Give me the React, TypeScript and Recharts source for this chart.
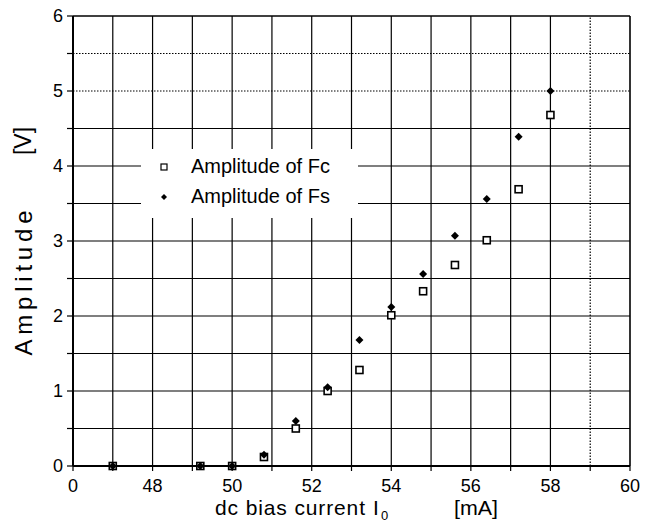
import { ScatterChart, Scatter, XAxis, YAxis, ReferenceLine, Legend } from 'recharts';

// bias current [mA] and the two measured amplitudes [V]
const current = [47, 49.2, 50, 50.8, 51.6, 52.4, 53.2, 54, 54.8, 55.6, 56.4, 57.2, 58];
const ampFc = [0, 0, 0, 0.12, 0.5, 1.0, 1.28, 2.01, 2.33, 2.68, 3.01, 3.69, 4.68];
const ampFs = [0, 0, 0, 0.15, 0.6, 1.05, 1.68, 2.12, 2.56, 3.07, 3.56, 4.39, 5.0];

const seriesNames = ['Amplitude of Fc', 'Amplitude of Fs'];

const xTicks = [46, 47, 48, 49, 50, 51, 52, 53, 54, 55, 56, 57, 58, 59, 60];
const yTicks = [0, 0.5, 1, 1.5, 2, 2.5, 3, 3.5, 4, 4.5, 5, 5.5, 6];
const xDotted = [59];
const yDotted = [5, 5.5];

const fcData = current.map((x, i) => ({ x, y: ampFc[i] }));
const fsData = current.map((x, i) => ({ x, y: ampFs[i] }));

const FONT = '"Liberation Sans", Arial, Helvetica, sans-serif';
const INK = '#000';

const xTickLabel = (v: number) => {
  if (v === 46) return '0';
  return v % 2 === 0 ? String(v) : '';
};
const yTickLabel = (v: number) => (Number.isInteger(v) ? String(v) : '');

const SquareMark = (props: any) => {
  const { cx, cy } = props;
  return <rect x={cx - 3.5} y={cy - 3.5} width={7} height={7} fill="#fff" stroke={INK} strokeWidth={1.6} />;
};

const DiamondMark = (props: any) => {
  const { cx, cy } = props;
  const r = 4;
  return <path d={`M${cx},${cy - r}L${cx + r},${cy}L${cx},${cy + r}L${cx - r},${cy}Z`} fill={INK} />;
};

const LegendBox = () => (
  <div style={{ fontFamily: FONT, fontSize: 20, color: INK, lineHeight: '30px', padding: '2px 0 0 0' }}>
    <div style={{ display: 'flex', alignItems: 'center' }}>
      <svg width={50} height={30}>
        <rect x={20} y={13} width={6} height={6} fill="#fff" stroke={INK} strokeWidth={1.2} />
      </svg>
      <span>{seriesNames[0]}</span>
    </div>
    <div style={{ display: 'flex', alignItems: 'center' }}>
      <svg width={50} height={30}>
        <path d="M23,13L26,16L23,19L20,16Z" fill={INK} />
      </svg>
      <span>{seriesNames[1]}</span>
    </div>
  </div>
);

const YTitle = () => (
  <g fontFamily={FONT} fontSize={24} fill={INK}>
    <text x={32} y={283} transform="rotate(-90 32 283)" textAnchor="middle" textLength={145} lengthAdjust="spacing">
      Amplitude
    </text>
    <text x={31} y={141} transform="rotate(-90 31 141)" textAnchor="middle" fontSize={23}>
      [V]
    </text>
  </g>
);

const XTitle = () => (
  <g fontFamily={FONT} fontSize={21} fill={INK}>
    <text x={215} y={515} textLength={150} lengthAdjust="spacing">
      dc bias current
    </text>
    <text x={373} y={515}>I</text>
    <text x={381} y={520} fontSize={13}>0</text>
    <text x={454} y={515} textLength={44} lengthAdjust="spacingAndGlyphs">
      [mA]
    </text>
  </g>
);

export default function App() {
  return (
    <div style={{ position: 'absolute', left: 0, top: 0, background: '#fff' }}>
      <ScatterChart width={652} height={524} margin={{ top: 16, right: 22, bottom: 0, left: 0 }}>
        <XAxis
          type="number"
          dataKey="x"
          domain={[46, 60]}
          ticks={xTicks}
          tickFormatter={xTickLabel}
          interval={0}
          height={58}
          tickSize={5}
          tickMargin={8}
          axisLine={{ stroke: INK, strokeWidth: 2 }}
          tickLine={{ stroke: INK, strokeWidth: 1.2 }}
          tick={{ fill: INK, fontSize: 18, fontFamily: FONT }}
          label={{ content: () => <XTitle /> }}
        />
        <YAxis
          type="number"
          dataKey="y"
          domain={[0, 6]}
          ticks={yTicks}
          tickFormatter={yTickLabel}
          interval={0}
          width={73}
          tickSize={6}
          tickMargin={4}
          axisLine={{ stroke: INK, strokeWidth: 2 }}
          tickLine={{ stroke: INK, strokeWidth: 1.2 }}
          tick={{ fill: INK, fontSize: 18, fontFamily: FONT }}
          label={{ content: () => <YTitle /> }}
        />
        {xTicks.slice(1).map((v) => (
          <ReferenceLine
            key={`gx-${v}`}
            x={v}
            stroke={INK}
            strokeWidth={v === 60 ? 1.6 : 1.2}
            strokeDasharray={xDotted.includes(v) ? '1.5 1.5' : undefined}
          />
        ))}
        {yTicks.slice(1).map((v) => (
          <ReferenceLine
            key={`gy-${v}`}
            y={v}
            stroke={INK}
            strokeWidth={v === 6 ? 1.6 : 1.2}
            strokeDasharray={yDotted.includes(v) ? '1.5 1.5' : undefined}
          />
        ))}
        <Legend
          layout="horizontal"
          verticalAlign="middle"
          align="center"
          content={() => <LegendBox />}
          wrapperStyle={{ position: 'absolute', left: 141, top: 149, width: 217, height: 69, background: '#fff' }}
        />
        <Scatter name={seriesNames[0]} data={fcData} shape={SquareMark} isAnimationActive={false} />
        <Scatter name={seriesNames[1]} data={fsData} shape={DiamondMark} isAnimationActive={false} />
      </ScatterChart>
    </div>
  );
}
